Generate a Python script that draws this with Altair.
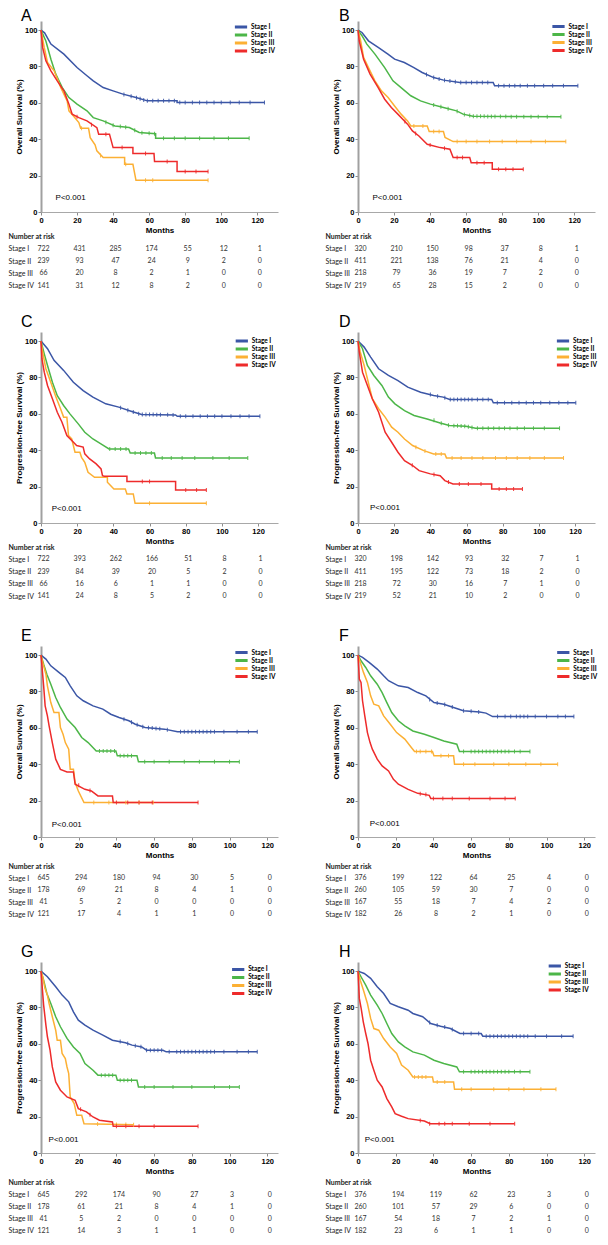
import altair as alt
import pandas as pd

STAGES = ["Stage I", "Stage II", "Stage III", "Stage IV"]
COLORS = ["#3b56a6", "#4cb648", "#fcb034", "#ee2b2b"]
RISK_MONTHS = [0, 20, 40, 60, 80, 100, 120]
Y_TICKS = [0, 20, 40, 60, 80, 100]

# ---------------- survival curves (months, %) ----------------
A_I = [(0,100),(2,98.5),(5.5,92.3),(12.7,86.8),(20,79.4),(25.5,74.9),(29,72.1),(34.5,68.4),(40,66.6),(45.5,64.8),(52.7,62.9),(59,61.1),(75.5,61.1),(75.5,60.2),(124,60.2)]
A_II = [(0,100),(2.7,94),(5.5,84),(8.2,75.8),(11.8,68.4),(15.5,62.9),(20,59.3),(25.5,55.6),(29,51.9),(34.5,50.1),(41,47.3),(49,46.4),(54.5,43.7),(63.6,43.0),(63.6,40.6),(115.5,40.6)]
A_III = [(0,100),(1.8,90.5),(3.6,82.2),(7.3,77.6),(11,68.4),(14.5,61.1),(15.5,55.6),(18,52.8),(21,49.2),(22,46),(26.4,46),(27.3,40.9),(30,36.9),(31,33.6),(34.5,29.9),(46.4,29.9),(46.4,26.2),(51,26.2),(52.7,17.4),(92.7,17.4)]
A_IV = [(0,100),(0.9,90.5),(2.7,83.1),(5.5,77.6),(9,72.1),(12.7,66.6),(15.5,59.3),(17.3,53.8),(21,51.9),(25.5,50.1),(31,46.4),(32,42.8),(38,42.8),(40,35.4),(51,35.4),(51,32.1),(62.7,32.1),(63,27.7),(75.5,27.7),(75.5,22.2),(92.7,22.2)]
B_I = [(0,100),(2.2,98.7),(5.8,94.1),(11.2,90.5),(16.6,86.8),(20.3,84),(25.7,82.2),(31,79.4),(35.6,76.7),(42,73.9),(47.5,72.5),(56.5,71.2),(75,71.2),(75.8,69.4),(122,69.4)]
B_II = [(0,100),(2.2,96.9),(4.9,92.3),(9.4,86.8),(14.8,79.4),(19.4,72.1),(23.9,68.4),(29.3,63.9),(34.7,61.1),(40.2,59.3),(47.4,57.4),(54.7,55.6),(58.3,53.8),(63.7,52.6),(112.6,52.3)]
B_III = [(0,100),(1.3,95),(3.1,85),(5.8,79.4),(9.4,72.1),(13,66.6),(16.7,62.9),(20.3,58.3),(23.9,53.8),(27.5,50.1),(29.3,47.3),(38.4,47.3),(39.5,44.2),(47.4,44.2),(48.3,41),(52.8,38.7),(115.3,38.7)]
B_IV = [(0,100),(0.7,94),(3.1,84),(6.7,75.8),(11.2,68.4),(14.8,62),(18.5,57.4),(22.1,53.8),(27.5,48.3),(30.2,44.6),(33.8,41.8),(38.4,37.2),(45.6,35.4),(51,34.5),(52.8,29.9),(62,29.9),(62.8,27.1),(74.5,27.1),(74.5,23.5),(91.7,23.5)]
C_I = [(0,100),(3.6,95.8),(7.2,89.4),(12.5,83.9),(17.9,77.4),(23.3,72.8),(28.7,69.2),(35.8,65.5),(43,63.7),(50.2,61.3),(55.6,59.6),(74.4,59.4),(75.3,58.7),(121,58.7)]
C_II = [(0,100),(1.8,93),(3.6,86.6),(6.3,77.4),(9,70),(12.5,64.6),(16,60),(20.6,54.5),(24.2,49.9),(28.7,46.2),(34,42.9),(37.6,40.7),(48.4,40.7),(49.3,38.5),(62.7,38.5),(63.3,35.8),(114.3,35.8)]
C_III = [(0,100),(0.9,94),(2.7,84.8),(5.4,77.4),(8,70),(10.8,62.8),(12.5,58.2),(14.3,58.2),(15.2,48.1),(17,46.2),(18.8,38.9),(21.5,38.9),(22.4,36.1),(24.2,33.4),(26,27.9),(29.6,25.1),(36.7,25.1),(36.7,22.4),(40.3,18.7),(46.6,18.7),(47.5,16),(51,16),(52,10.8),(91.4,10.8)]
C_IV = [(0,100),(0.5,90.3),(1.8,82.9),(3.6,75.6),(6.3,68.3),(9,60.9),(11.6,55.4),(14.3,48.1),(17,45.3),(19.7,42.6),(23.3,41.7),(24.2,38),(26.9,35.2),(30.5,32.5),(33.2,29.7),(34,26),(35,25.7),(47.5,25.7),(47.5,22.8),(74.4,22.8),(74.4,18.2),(91.4,18.2)]
D_I = [(0,100),(3.4,96.7),(7,91.2),(11.4,84.8),(16.8,81.1),(22.1,78.3),(27.5,74.7),(34.6,71.9),(41.8,70.1),(47.1,69.2),(50.7,67.9),(73.9,67.9),(74.8,66.1),(120.4,66.1)]
D_II = [(0,100),(2.5,95.8),(5.2,86.6),(8.75,81.1),(13.2,75.6),(16.8,69.2),(20.4,65.5),(25.7,61.8),(31,59.1),(38.2,57.2),(45.4,55),(50.5,53.6),(59.6,53.2),(65,52.1),(111.4,52.1)]
D_III = [(0,100),(1.25,94),(3.4,86.6),(5.2,79.3),(7.9,68.3),(11.4,62.8),(15,58.2),(18.6,52.7),(22.1,49.9),(25.7,46.2),(30.2,42.6),(36.4,39.8),(41.8,38),(48,38),(48.9,35.8),(113.6,35.8)]
D_IV = [(0,100),(0.7,94),(2.5,82.9),(5.2,75.6),(7.9,68.3),(11.4,60.9),(15,49.9),(18.6,44.4),(22.1,38.9),(25.7,34.3),(30.2,31.6),(33.8,28.8),(40,27),(45.4,26),(48,23.3),(52.5,21.5),(73.9,21.5),(73.9,18.7),(90.9,18.7)]
E_I = [(0,100),(2.6,97.8),(5.2,94.1),(9.5,90.5),(12.9,87.7),(15.5,83.1),(19,77.6),(22.4,74.9),(27.6,72.1),(32.8,70.3),(37,67.5),(41.4,65.7),(46.6,63.9),(50,62),(55.2,60.2),(65.5,59.3),(72.4,57.8),(114.7,57.8)]
E_II = [(0,100),(1.4,95),(3.1,89.5),(5.2,84),(7.8,76.7),(10.3,71.2),(13.8,64.8),(18.1,60.2),(21.6,54.7),(25,51.9),(29.3,47.3),(39.7,47.3),(40.5,44.6),(50.9,44.6),(51.7,41.3),(105.2,41.3)]
E_III = [(0,100),(0.9,96),(2.6,89.5),(3.4,83.1),(5.2,73.9),(6.9,68.4),(9.5,68.4),(10.3,60.2),(11.7,56.5),(12.9,51.9),(14.7,48.3),(15.5,37.2),(17.2,37.2),(18.1,29.9),(19.8,25.3),(22.8,18.9),(59.5,18.9)]
E_IV = [(0,100),(0.5,94.1),(1.4,83.1),(2.2,72.1),(3.4,66.6),(4.3,61.1),(6,51.9),(7.8,42.8),(10.3,37.2),(13.8,35.8),(17.2,35.8),(18.1,29),(23.3,26.2),(26.7,25.3),(30.2,22.6),(37.9,22.6),(38.3,18.9),(83.3,18.9)]
F_I = [(0,100),(2.4,98.7),(5.9,96),(10.2,92.3),(13.6,88.6),(16.2,85.9),(21.4,83.1),(26.6,82.2),(31.7,79.4),(36,77.6),(40.3,73.9),(45.5,73),(50.7,71.2),(55.9,69.4),(64.5,68.7),(67.9,68.1),(71.4,66.2),(114.5,66.2)]
F_II = [(0,100),(1.6,96.9),(4.1,93.2),(6.7,88.6),(10.2,84),(12.8,79.4),(15.3,73.9),(17.9,68.4),(21.4,63.9),(24.8,61.1),(29.1,58.3),(35.2,56.5),(40.3,54.7),(45.5,52.8),(52.4,51),(53.8,47),(91.2,47)]
F_III = [(0,100),(1.2,96),(2.9,90.5),(5,85),(6.7,77.6),(8.4,73),(11,72.1),(13.6,66.6),(17.1,62),(20.5,57.4),(24.8,53.8),(28.3,49.2),(30,47),(39.5,47),(40.3,44.6),(50.7,44.6),(51.2,40),(105.9,40)]
F_IV = [(0,100),(0.7,86.8),(1.6,85),(2.4,74.9),(3.6,66.6),(5,57.4),(6.4,51.9),(7.6,48.3),(10.2,42.8),(12.8,39.1),(16.2,36.3),(18.8,31.7),(21.4,29),(26.6,26.2),(31.7,24),(37.8,22.9),(38.6,21.1),(83.4,21.1)]
G_I = [(0,100),(3.4,96.9),(7.8,91.4),(11.2,86.8),(14.7,83.1),(17.2,77.6),(19.8,73),(23.3,70.3),(27.6,67.5),(32.8,64.8),(37.9,62),(44.8,60.6),(48.3,59.3),(53.4,58.3),(56,56.5),(64.7,56.5),(66.4,55.6),(114.7,55.6)]
G_II = [(0,100),(1.4,95),(3.1,87.7),(5.2,82.2),(7.8,74.9),(10.3,69.4),(13.8,63),(17.2,58.3),(20.7,54.7),(23.3,49.2),(27.6,45.5),(30.2,42.8),(39.7,42.8),(40.5,40),(50.9,40),(51.7,36.3),(105.2,36.3)]
G_III = [(0,100),(0.9,96.9),(2.1,90.5),(3.4,86.8),(4.3,82.2),(6,74.9),(7.8,67.5),(8.6,62),(10.3,62),(11.2,54.7),(12.9,51.9),(13.8,47.3),(14.7,43.7),(15.5,30.8),(17.6,27.2),(19,20.7),(21.6,20.7),(22.8,16.1),(49.1,15.5)]
G_IV = [(0,100),(0.5,93.2),(1.4,81.3),(2.6,70.3),(3.4,63.9),(4.8,56.5),(6,47.3),(7.8,39.1),(10.3,34.5),(13.8,30.8),(18.1,29),(19.8,24.4),(24.1,22.6),(27.6,19.8),(31,18),(37.9,17.1),(38.3,14.7),(83.3,14.7)]
H_I = [(0,100),(3.3,98.7),(6.7,96),(10.2,91.4),(13.6,87.7),(17.1,82.2),(21.4,80.4),(26.6,78.5),(29.1,76.7),(34.3,74.9),(38.6,71.2),(43.8,69.7),(49,68.4),(54.1,65.7),(65.3,65.7),(66.2,64.2),(114.1,64.2)]
H_II = [(0,100),(1.6,96.9),(4.1,92.3),(6.7,86.8),(10.2,81.3),(12.8,76.7),(15.3,71.2),(17.9,65.7),(21.4,61.1),(24.8,58.3),(29.1,55.6),(35.2,53.8),(40.3,51),(45.5,49.2),(52.4,47.3),(53.8,44.6),(91.2,44.6)]
H_III = [(0,100),(1.2,95),(2.9,89.5),(5,82.2),(6.7,74),(8.4,68.4),(11,67.5),(13.6,62.9),(17.1,58.3),(20.5,54.7),(23.1,48.3),(26.6,45.5),(29.1,41.8),(39.5,41.8),(40,39.1),(50.7,39.1),(51.2,35),(105,35)]
H_IV = [(0,100),(0.7,85),(1.7,79.4),(2.8,72.1),(4.1,65.7),(5.3,60.2),(6.7,51),(8.4,45.5),(10.2,40),(12.8,36.3),(15.3,29.9),(17.9,25.3),(19.7,21.6),(23.1,20.2),(26.6,18.9),(35.2,17.6),(38.3,16.1),(83.1,16.1)]

# ---------------- censored observations (months, %) ----------------
A_I_C = [(46,64.6),(50,63.6),(53,62.8),(55,62.2),(57,61.6),(59,61.1),(62,61.1),(65,61.1),(68,61.1),(71,61.1),(74,61.1),(77,60.2),(80,60.2),(84,60.2),(88,60.2),(92,60.2),(96,60.2),(100,60.2),(105,60.2),(110,60.2),(116,60.2),(124,60.2)]
A_II_C = [(36,49.4),(40,47.7),(44,47.0),(47,46.6),(52,44.9),(56,43.6),(60,43.3),(63,43.0),(68,40.6),(74,40.6),(80,40.6),(88,40.6),(96,40.6),(104,40.6),(115.5,40.6)]
A_III_C = [(22.5,46),(33,31),(47,26.2),(58,17.4),(62,17.4),(92.7,17.4)]
A_IV_C = [(20,52.3),(28,48),(36,42.8),(45,35.4),(58,32.1),(70,27.7),(80,22.2),(86,22.2),(92.7,22.2)]
B_I_C = [(38,75.6),(42,73.9),(45,73.1),(48,72.4),(51,72.0),(54,71.6),(57,71.2),(60,71.2),(63,71.2),(66,71.2),(69,71.2),(72,71.2),(78,69.4),(81,69.4),(84,69.4),(87,69.4),(90,69.4),(94,69.4),(98,69.4),(103,69.4),(108,69.4),(114,69.4),(122,69.4)]
B_II_C = [(42,58.8),(46,57.8),(50,56.8),(55,55.4),(59,53.6),(62,53.0),(64,52.6),(66,52.6),(68,52.6),(70,52.6),(72,52.5),(74,52.5),(76,52.5),(79,52.5),(82,52.5),(85,52.4),(88,52.4),(92,52.4),(96,52.4),(100,52.4),(105,52.3),(112.6,52.3)]
B_III_C = [(31,47.3),(36,47.3),(42,44.2),(45,44.2),(55,38.7),(60,38.7),(66,38.7),(73,38.7),(80,38.7),(88,38.7),(96,38.7),(104,38.7),(115.3,38.7)]
B_IV_C = [(26,49.8),(32,43.2),(40,36.8),(48,35),(55,29.9),(58,29.9),(66,27.1),(70,27.1),(78,23.5),(82,23.5),(86,23.5),(91.7,23.5)]
C_I_C = [(44,63.4),(48,62),(51,61),(54,60.1),(56,59.6),(58,59.6),(60,59.6),(62,59.6),(64,59.5),(66,59.5),(70,59.5),(73,59.4),(77,58.7),(80,58.7),(84,58.7),(88,58.7),(92,58.7),(96,58.7),(100,58.7),(105,58.7),(110,58.7),(115,58.7),(121,58.7)]
C_II_C = [(38,40.7),(41,40.7),(44,40.7),(47,40.7),(52,38.5),(55,38.5),(58,38.5),(61,38.5),(67,35.8),(72,35.8),(78,35.8),(85,35.8),(95,35.8),(104,35.8),(114.3,35.8)]
C_III_C = [(60,10.8),(91.4,10.8)]
C_IV_C = [(56,22.8),(60,22.8),(80,18.2),(86,18.2),(91.4,18.2)]
D_I_C = [(40,70.6),(44,69.7),(48,68.9),(51,67.9),(53,67.9),(55,67.9),(57,67.9),(59,67.9),(61,67.9),(63,67.9),(66,67.9),(69,67.9),(72,67.9),(77,66.1),(81,66.1),(85,66.1),(89,66.1),(93,66.1),(97,66.1),(101,66.1),(106,66.1),(111,66.1),(116,66.1),(120.4,66.1)]
D_II_C = [(42,56.5),(46,54.8),(50,53.7),(53,53.5),(55,53.4),(57,53.3),(59,53.2),(61,52.9),(63,52.5),(66,52.1),(69,52.1),(72,52.1),(75,52.1),(78,52.1),(81,52.1),(84,52.1),(88,52.1),(92,52.1),(97,52.1),(103,52.1),(111.4,52.1)]
D_III_C = [(32,41.7),(37,39.6),(43,38),(46,38),(52,35.8),(57,35.8),(63,35.8),(69,35.8),(76,35.8),(82,35.8),(88,35.8),(95,35.8),(103,35.8),(113.6,35.8)]
D_IV_C = [(30,31.7),(42,26.6),(50,22.5),(56,21.5),(61,21.5),(68,21.5),(78,18.7),(82,18.7),(86,18.7),(90.9,18.7)]
E_I_C = [(44,64.8),(48,63.1),(51,61.7),(54,60.6),(57,60),(59,59.9),(61,59.7),(63,59.5),(67,59),(74,57.8),(76,57.8),(78,57.8),(80,57.8),(82,57.8),(84,57.8),(86,57.8),(88,57.8),(90,57.8),(92,57.8),(97,57.8),(104,57.8),(110,57.8),(114.7,57.8)]
E_II_C = [(31,47.3),(33,47.3),(35,47.3),(37,47.3),(39,47.3),(42,44.6),(44,44.6),(46,44.6),(48,44.6),(55,41.3),(60,41.3),(68,41.3),(76,41.3),(84,41.3),(92,41.3),(100,41.3),(105.2,41.3)]
E_III_C = [(28,18.9),(36,18.9),(45,18.9),(52,18.9),(59.5,18.9)]
E_IV_C = [(20,28.4),(26,25.5),(40,18.9),(46,18.9),(52,18.9),(59,18.9),(83.3,18.9)]
F_I_C = [(38,75.6),(42,73.6),(46,72.8),(50,71.4),(56,69.4),(60,69.1),(64,68.7),(74,66.2),(78,66.2),(81,66.2),(84,66.2),(86,66.2),(88,66.2),(90,66.2),(94,66.2),(100,66.2),(106,66.2),(110,66.2),(114.5,66.2)]
F_II_C = [(56,47),(60,47),(62,47),(64,47),(66,47),(68,47),(70,47),(72,47),(74,47),(76,47),(78,47),(80,47),(83,47),(86,47),(91.2,47)]
F_III_C = [(31,47),(33,47),(36,47),(39,47),(44,44.6),(48,44.6),(56,40),(62,40),(72,40),(80,40),(89,40),(97,40),(105.9,40)]
F_IV_C = [(33,23.8),(36,23.3),(40,21.1),(45,21.1),(50,21.1),(59,21.1),(70,21.1),(78,21.1),(83.4,21.1)]
G_I_C = [(42,61.3),(46,60.2),(50,59),(53,58.4),(56,56.5),(58,56.5),(60,56.5),(62,56.5),(64,56.5),(68,55.6),(72,55.6),(74,55.6),(76,55.6),(78,55.6),(80,55.6),(82,55.6),(84,55.6),(86,55.6),(88,55.6),(90,55.6),(92,55.6),(97,55.6),(104,55.6),(110,55.6),(114.7,55.6)]
G_II_C = [(32,42.8),(34,42.8),(36,42.8),(38,42.8),(42,40),(44,40),(46,40),(48,40),(55,36.3),(60,36.3),(70,36.3),(80,36.3),(92,36.3),(100,36.3),(105.2,36.3)]
G_III_C = [(30,15.9),(40,15.7),(45,15.6),(49.1,15.5)]
G_IV_C = [(21,24),(26,21),(40,14.7),(45,14.7),(52,14.7),(60,14.7),(83.3,14.7)]
H_I_C = [(38,71.7),(42,70.2),(46,69.2),(50,67.9),(56,65.7),(60,65.7),(64,65.7),(68,64.2),(70,64.2),(72,64.2),(74,64.2),(76,64.2),(78,64.2),(80,64.2),(82,64.2),(84,64.2),(86,64.2),(88,64.2),(90,64.2),(94,64.2),(100,64.2),(108,64.2),(114.1,64.2)]
H_II_C = [(56,44.6),(60,44.6),(62,44.6),(64,44.6),(66,44.6),(68,44.6),(70,44.6),(72,44.6),(74,44.6),(76,44.6),(78,44.6),(80,44.6),(83,44.6),(86,44.6),(91.2,44.6)]
H_III_C = [(30,41.8),(32,41.8),(34,41.8),(36,41.8),(42,39.1),(46,39.1),(55,35),(60,35),(72,35),(80,35),(88,35),(97,35),(105,35)]
H_IV_C = [(33,17.9),(38,16.1),(43,16.1),(46,16.1),(50,16.1),(59,16.1),(70,16.1),(83.1,16.1)]

# ---------------- number at risk ----------------
A_RISK = [[722,431,285,174,55,12,1],[239,93,47,24,9,2,0],[66,20,8,2,1,0,0],[141,31,12,8,2,0,0]]
B_RISK = [[320,210,150,98,37,8,1],[411,221,138,76,21,4,0],[218,79,36,19,7,2,0],[219,65,28,15,2,0,0]]
C_RISK = [[722,393,262,166,51,8,1],[239,84,39,20,5,2,0],[66,16,6,1,1,0,0],[141,24,8,5,2,0,0]]
D_RISK = [[320,198,142,93,32,7,1],[411,195,122,73,18,2,0],[218,72,30,16,7,1,0],[219,52,21,10,2,0,0]]
E_RISK = [[645,294,180,94,30,5,0],[178,69,21,8,4,1,0],[41,5,2,0,0,0,0],[121,17,4,1,1,0,0]]
F_RISK = [[376,199,122,64,25,4,0],[260,105,59,30,7,0,0],[167,55,18,7,4,2,0],[182,26,8,2,1,0,0]]
G_RISK = [[645,292,174,90,27,3,0],[178,61,21,8,4,1,0],[41,5,2,0,0,0,0],[121,14,3,1,1,0,0]]
H_RISK = [[376,194,119,62,23,3,0],[260,101,57,29,6,0,0],[167,54,18,7,2,1,0],[182,23,6,1,1,0,0]]

OS = "Overall Survival (%)"
PFS = "Progression-free Survival (%)"
P_TEXT = "P<0.001"

# ---------------- layout settings ----------------
NARROW = "Liberation Sans Narrow, Arial Narrow, Liberation Sans, sans-serif"
SANS = "Liberation Sans, Arial, sans-serif"
TABLE_FONT = "Lato, Open Sans, sans-serif"
PW, PH = 237, 191
COL_GAP = 80

PANELS = {
    "A": dict(curves=[A_I, A_II, A_III, A_IV], cens=[A_I_C, A_II_C, A_III_C, A_IV_C], risk=A_RISK, ytitle=OS, xmax=131.5, leg=(192, 2), p=(8.1, 7.9), let=(-11.1, 105.0), tpad=33, trange=(16.7, 65.7), th=103.2),
    "B": dict(curves=[B_I, B_II, B_III, B_IV], cens=[B_I_C, B_II_C, B_III_C, B_IV_C], risk=B_RISK, ytitle=OS, xmax=131.5, leg=(192.5, 1.5), p=(8.0, 7.9), let=(-10.5, 105.0), tpad=33, trange=(16.7, 65.7), th=103.2),
    "C": dict(curves=[C_I, C_II, C_III, C_IV], cens=[C_I_C, C_II_C, C_III_C, C_IV_C], risk=C_RISK, ytitle=PFS, xmax=131, leg=(192.8, 5), p=(5.9, 7.7), let=(-11.1, 107.8), tpad=33, trange=(16.1, 65.1), th=107),
    "D": dict(curves=[D_I, D_II, D_III, D_IV], cens=[D_I_C, D_II_C, D_III_C, D_IV_C], risk=D_RISK, ytitle=PFS, xmax=131, leg=(197, 5), p=(6.6, 8.1), let=(-10.5, 107.8), tpad=33, trange=(16.1, 65.1), th=107),
    "E": dict(curves=[E_I, E_II, E_III, E_IV], cens=[E_I_C, E_II_C, E_III_C, E_IV_C], risk=E_RISK, ytitle=OS, xmax=125.7, leg=(192.5, 2.5), p=(5.7, 6.6), let=(-10.6, 107.8), tpad=33, trange=(21.1, 69.1), th=108.7),
    "F": dict(curves=[F_I, F_II, F_III, F_IV], cens=[F_I_C, F_II_C, F_III_C, F_IV_C], risk=F_RISK, ytitle=OS, xmax=125.7, leg=(197.3, 2.5), p=(6.2, 7.0), let=(-10.1, 107.8), tpad=33, trange=(21.1, 69.1), th=108.7),
    "G": dict(curves=[G_I, G_II, G_III, G_IV], cens=[G_I_C, G_II_C, G_III_C, G_IV_C], risk=G_RISK, ytitle=PFS, xmax=125.7, leg=(189.2, 3.4), p=(4.0, 7.0), let=(-10.6, 107.8), tpad=33, trange=(21.8, 69.8), th=71),
    "H": dict(curves=[H_I, H_II, H_III, H_IV], cens=[H_I_C, H_II_C, H_III_C, H_IV_C], risk=H_RISK, ytitle=PFS, xmax=125.7, leg=(188.8, 0), p=(3.6, 7.3), let=(-10.1, 107.8), tpad=33, trange=(21.8, 69.8), th=71),
}


def plot_panel(letter, cfg):
    rows = []
    for stage, curve in zip(STAGES, cfg["curves"]):
        for i, (t, s) in enumerate(curve):
            rows.append({"stage": stage, "t": t, "s": s, "i": i})
    df = pd.DataFrame(rows)
    crow = []
    for stage, cl in zip(STAGES, cfg["cens"]):
        for t, s in cl:
            crow.append({"stage": stage, "t": t, "s": s})
    cdf = pd.DataFrame(crow)

    xsc = alt.Scale(domain=[0, cfg["xmax"]], nice=False, zero=True)
    ysc = alt.Scale(domain=[0, 105], nice=False)
    xax = alt.Axis(values=RISK_MONTHS, title="Months", grid=False, labelFont=NARROW,
                   labelFontSize=7.5, labelFontWeight="bold", labelColor="#000",
                   tickSize=3, tickColor="#8c8c8c", domainColor="#a8a8a8", domainWidth=1.2,
                   labelPadding=1, titlePadding=3, titleFont=SANS, titleFontSize=8,
                   titleFontWeight="bold", titleColor="#000", labelFlush=False,
                   labelOverlap=False)
    yax = alt.Axis(values=Y_TICKS, title=cfg["ytitle"], grid=False, labelFont=NARROW,
                   labelFontSize=7.5, labelFontWeight="bold", labelColor="#000",
                   tickSize=3, tickColor="#8c8c8c", domainColor="#a0a0a0", domainWidth=2,
                   labelPadding=1, titlePadding=1, titleFont=SANS, titleFontSize=8,
                   titleFontWeight="bold", titleColor="#000", labelOverlap=False,
                   labelFlush=False, labelBound=False)
    X = alt.X("t:Q", scale=xsc, axis=xax)
    Y = alt.Y("s:Q", scale=ysc, axis=yax)
    cscale = alt.Scale(domain=STAGES, range=COLORS)
    lines = alt.Chart(df).mark_line(strokeWidth=1.5, clip=False).encode(
        x=X, y=Y,
        color=alt.Color("stage:N", scale=cscale,
                        legend=alt.Legend(orient="none", legendX=cfg["leg"][0], legendY=cfg["leg"][1],
                                          title=None, symbolType="stroke", symbolSize=150,
                                          symbolStrokeWidth=3, labelFont=TABLE_FONT, labelFontSize=6.5,
                                          labelFontWeight="bold", labelColor="#000", clipHeight=8,
                                          rowPadding=0, labelOffset=2, padding=0)),
        detail="stage:N",
        order=alt.Order("i:Q"),
    )
    ticks = alt.Chart(cdf).mark_tick(orient="vertical", size=4, thickness=1, opacity=0.9).encode(
        x=X, y=Y, color=alt.Color("stage:N", scale=cscale, legend=None))
    pdf = pd.DataFrame({"t": [cfg["p"][0]], "s": [cfg["p"][1]], "label": [P_TEXT]})
    ptxt = alt.Chart(pdf).mark_text(align="left", baseline="middle", font=SANS, fontSize=8,
                                    color="#000").encode(x=X, y=Y, text="label:N")
    ldf = pd.DataFrame({"t": [cfg["let"][0]], "s": [cfg["let"][1]], "label": [letter]})
    ltxt = alt.Chart(ldf).mark_text(align="left", baseline="alphabetic", font=SANS, fontSize=16,
                                    color="#000", clip=False).encode(x=X, y=Y, text="label:N")
    return alt.layer(lines, ticks, ptxt, ltxt).properties(width=PW, height=PH)


def table_panel(cfg):
    rows = []
    for stage, vals in zip(STAGES, cfg["risk"]):
        for m, v in zip(RISK_MONTHS, vals):
            rows.append({"row": stage, "m": m, "n": str(v)})
    df = pd.DataFrame(rows)
    ydom = ["Number at risk"] + STAGES
    return alt.Chart(df).mark_text(font=TABLE_FONT, fontSize=7, color="#333", dx=2.5,
                                   align="center", baseline="middle").encode(
        x=alt.X("m:Q", scale=alt.Scale(domain=[0, cfg["xmax"]], nice=False), axis=None),
        y=alt.Y("row:N", scale=alt.Scale(domain=ydom, range=list(cfg["trange"]), padding=0),
                axis=alt.Axis(title=None, ticks=False, domain=False, labelAlign="left",
                              labelPadding=cfg["tpad"], labelFont=TABLE_FONT, labelFontSize=7,
                              labelColor="#222",
                              labelFontWeight={"condition": {"test": "datum.value == 'Number at risk'",
                                                             "value": "bold"}, "value": "normal"})),
        text="n:N",
    ).properties(width=PW, height=cfg["th"])


charts = []
for pair in [("A", "B"), ("C", "D"), ("E", "F"), ("G", "H")]:
    for k in pair:
        charts.append(plot_panel(k, PANELS[k]))
    for k in pair:
        charts.append(table_panel(PANELS[k]))

chart = alt.concat(*charts, columns=2, spacing={"row": 8, "column": COL_GAP},
                   bounds="flush", align="each").resolve_scale(
    color="independent", x="independent", y="independent").resolve_legend(
    color="independent").properties(padding=0).configure_view(stroke=None)

chart.save("out.html", embed_options={"renderer": "svg", "actions": False})
